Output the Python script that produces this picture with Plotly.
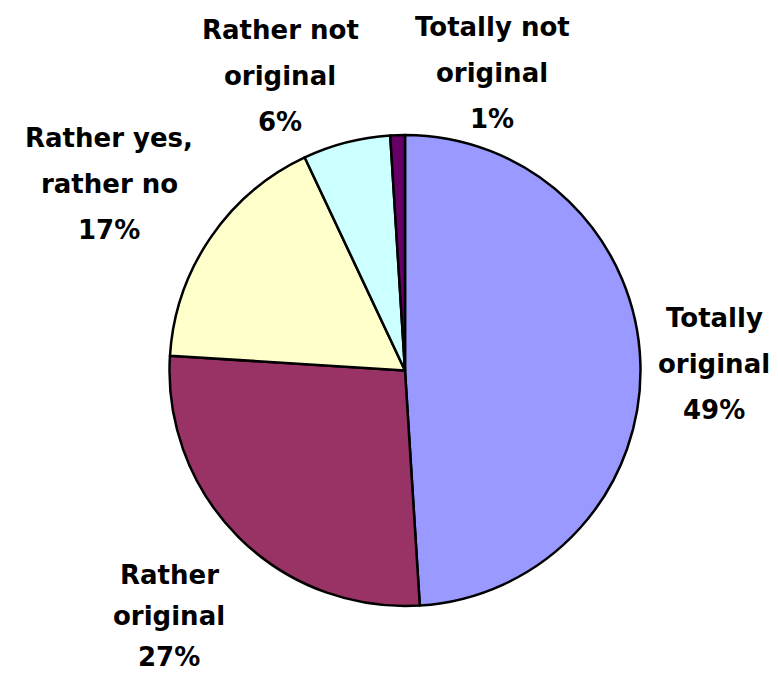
import plotly.graph_objects as go

W, H = 778, 677

categories = ["Totally original", "Rather original", "Rather yes, rather no",
              "Rather not original", "Totally not original"]
values = [49, 27, 17, 6, 1]
colors = ["#9999FF", "#993366", "#FFFFCC", "#CCFFFF", "#660066"]

# label text lines (split as in the reference)
label_lines = [
    ["Totally", "original"],
    ["Rather", "original"],
    ["Rather yes,", "rather no"],
    ["Rather not", "original"],
    ["Totally not", "original"],
]
# label placement (pixel centre x, baseline of first line, line spacing)
label_pos = [
    (714, 327, 46),
    (169, 584, 41),
    (109, 147, 46),
    (280, 39, 46),
    (492, 36, 46),
]

fig = go.Figure(go.Pie(
    labels=categories,
    values=values,
    marker=dict(colors=colors, line=dict(color="black", width=2.5)),
    sort=False,
    direction="clockwise",
    rotation=0,
    textinfo="none",
    hoverinfo="label+percent",
    showlegend=False,
    domain=dict(x=[169 / W, 641 / W], y=[1 - 606 / H, 1 - 135 / H]),
))

annotations = []
for lines, v, (cx, b0, dy) in zip(label_lines, values, label_pos):
    all_lines = lines + [f"{v}%"]
    for i, t in enumerate(all_lines):
        baseline = b0 + i * dy
        ycen = baseline - 9
        annotations.append(dict(
            text=f"<b>{t}</b>", x=cx / W, y=1 - ycen / H,
            xref="paper", yref="paper", xanchor="center", yanchor="middle",
            showarrow=False,
            font=dict(family="DejaVu Sans", size=26, color="black"),
        ))

fig.update_layout(
    width=W, height=H,
    margin=dict(l=0, r=0, t=0, b=0),
    paper_bgcolor="white", plot_bgcolor="white",
    annotations=annotations,
)

fig.write_html("out.html")
